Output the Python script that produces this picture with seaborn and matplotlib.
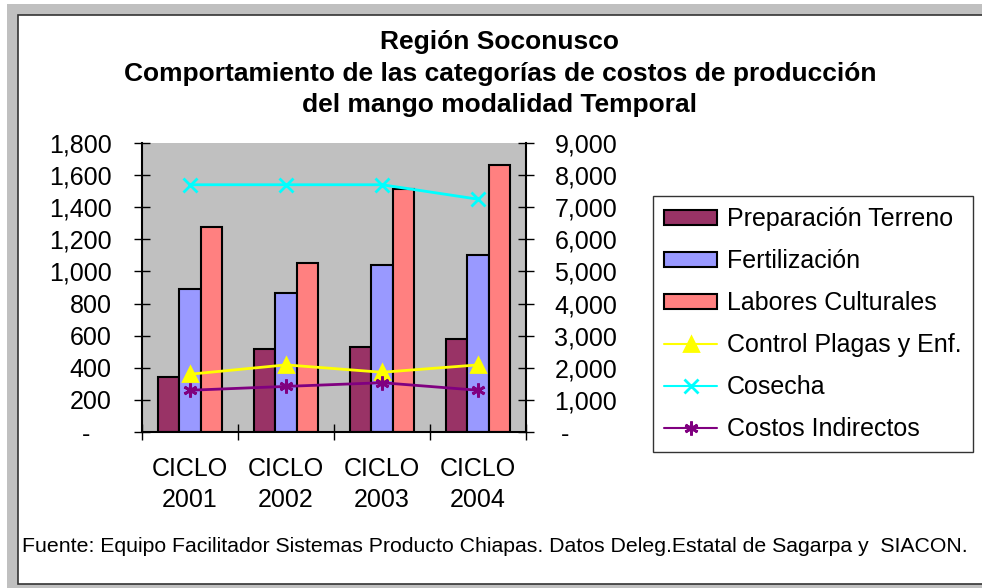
import numpy as np
import pandas as pd
import seaborn as sns
import matplotlib.pyplot as plt
from matplotlib.patches import Patch, Rectangle
from matplotlib.lines import Line2D
from matplotlib.ticker import FuncFormatter

# Datos
ciclos = ['CICLO\n2001', 'CICLO\n2002', 'CICLO\n2003', 'CICLO\n2004']
preparacion = [345, 520, 532, 582]
fertilizacion = [892, 867, 1040, 1102]
labores = [1277, 1052, 1515, 1662]
control_plagas = [1800, 2090, 1860, 2090]
cosecha = [7700, 7700, 7700, 7250]
costos_indirectos = [1300, 1420, 1535, 1300]

cat_barras = ['Preparación Terreno', 'Fertilización', 'Labores Culturales']
cat_lineas = ['Control Plagas y Enf.', 'Cosecha', 'Costos Indirectos']
colores_barras = ['#993366', '#9999FF', '#FF8080']
colores_lineas = ['#FFFF00', '#00FFFF', '#800080']
marcadores = ['^', 'x', (6, 2, 0)]

df = pd.DataFrame({
    'ciclo': ciclos * 3,
    'categoria': np.repeat(cat_barras, len(ciclos)),
    'valor': preparacion + fertilizacion + labores,
})

sns.set_style('white')
plt.rcParams['font.family'] = ['Liberation Sans', 'DejaVu Sans']
plt.rcParams['text.color'] = 'black'

W, H = 982, 588
fig = plt.figure(figsize=(W / 100, H / 100), dpi=100)
fig.patch.set_facecolor('white')

# Marco estilo Excel
fig.add_artist(Rectangle((7 / W, 0), 1, (H - 4) / H, transform=fig.transFigure,
                         facecolor='#c0c0c0', edgecolor='none', zorder=-3))
fig.add_artist(Rectangle((17.5 / W, (H - 583.5) / H), (995 - 17.5) / W, (583.5 - 14.5) / H,
                         transform=fig.transFigure, facecolor='white',
                         edgecolor='#333333', linewidth=1.2, zorder=-2))

ax = fig.add_axes([142 / W, 1 - 432 / H, 384 / W, 289 / H])
ax.set_facecolor('#c0c0c0')

sns.barplot(data=df, x='ciclo', y='valor', hue='categoria', order=ciclos,
            hue_order=cat_barras, palette=colores_barras, width=0.667, saturation=1,
            edgecolor='black', linewidth=1.5, errorbar=None, legend=False, ax=ax)

ax2 = ax.twinx()
posiciones = np.arange(len(ciclos))
for vals, color, mk in zip([control_plagas, cosecha, costos_indirectos],
                           colores_lineas, marcadores):
    sns.lineplot(x=posiciones, y=vals, ax=ax2, color=color, linewidth=2,
                 marker=mk, markersize=10, markeredgewidth=2,
                 markerfacecolor=color, markeredgecolor=color)

ax.set_ylim(0, 1800)
ax2.set_ylim(0, 9000)
ax.set_xlim(-0.5, 3.5)
ax.set_xlabel('')
ax.set_ylabel('')
ax2.set_xlabel('')
ax2.set_ylabel('')

ax.set_yticks(range(0, 1801, 200))
ax2.set_yticks(range(0, 9001, 1000))
ax.yaxis.set_major_formatter(FuncFormatter(lambda v, p: '-   ' if v == 0 else f'{v:,.0f}'))
ax2.yaxis.set_major_formatter(FuncFormatter(lambda v, p: ' -' if v == 0 else f'{v:,.0f}'))

ax.set_xticks(posiciones)
ax.set_xticklabels(ciclos, linespacing=1.35)
ax.set_xticks(np.arange(-0.5, 4, 1), minor=True)

ax.tick_params(axis='y', direction='inout', length=11.5, width=1, pad=16,
               labelsize=18, colors='black', left=True)
ax2.tick_params(axis='y', direction='inout', length=12, width=1, pad=14.5,
                labelsize=18, colors='black', right=True)
ax.tick_params(axis='x', which='major', length=0, pad=18, labelsize=18, colors='black')
ax.tick_params(axis='x', which='minor', direction='inout', length=11.5, width=1,
               color='black', bottom=True)

for a in (ax, ax2):
    a.spines['top'].set_visible(False)
    for s in a.spines.values():
        s.set_color('black')
        s.set_linewidth(1.5)
ax.spines['right'].set_visible(False)
ax2.spines['left'].set_visible(False)
ax2.spines['bottom'].set_visible(False)

# Título
titulo = ['Región Soconusco',
          'Comportamiento de las categorías de costos de producción',
          'del mango modalidad Temporal']
for i, linea in enumerate(titulo):
    fig.text(500 / W, 1 - (49 + 31.5 * i) / H, linea, ha='center', va='baseline',
             fontsize=19, fontweight='bold', color='black')

# Leyenda
handles = [Patch(facecolor=c, edgecolor='black', linewidth=1.5) for c in colores_barras]
handles += [Line2D([0], [0], color=c, marker=m, markersize=10, markeredgewidth=2,
                   linewidth=1.5, markerfacecolor=c, markeredgecolor=c)
            for c, m in zip(colores_lineas, marcadores)]
leg = fig.legend(handles, cat_barras + cat_lineas, loc='upper left',
                 bbox_to_anchor=(653 / W, 1 - 196 / H), frameon=True, fancybox=False,
                 edgecolor='black', fontsize=18, handlelength=2.1, handleheight=0.55,
                 handletextpad=0.4, labelspacing=0.72, borderpad=0.45, borderaxespad=0)
leg.get_frame().set_linewidth(1)
for t in leg.get_texts():
    t.set_color('black')

fig.text(22 / W, 1 - 552 / H,
         'Fuente: Equipo Facilitador Sistemas Producto Chiapas. Datos Deleg.Estatal de Sagarpa y  SIACON.',
         ha='left', va='baseline', fontsize=15.3, color='black')

plt.savefig('out.png', dpi=100)
